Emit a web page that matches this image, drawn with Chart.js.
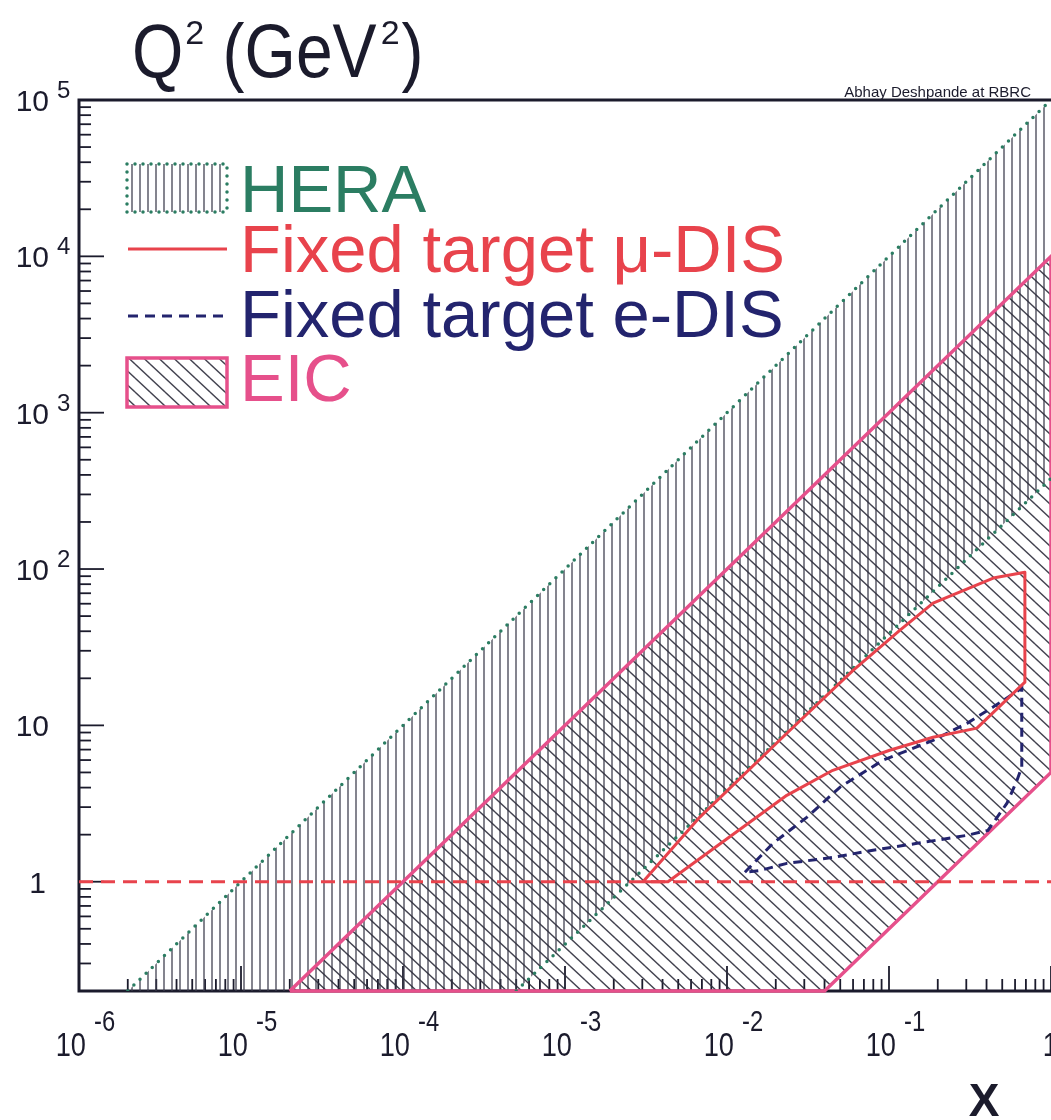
<!DOCTYPE html>
<html>
<head>
<meta charset="utf-8">
<script src="https://cdn.jsdelivr.net/npm/chart.js@4.4.1/dist/chart.umd.min.js"></script>
<style>
  html, body { margin: 0; padding: 0; background: #fff; }
  #wrap { width: 1051px; height: 1120px; }
</style>
</head>
<body>
<div id="wrap"><canvas id="kinem" width="1051" height="1120"></canvas></div>
<script>
// Plano cinemático (x, Q²): HERA, blanco fijo y EIC
const heraUpperX = [2e-6, 1];
const heraUpperQ2 = [0.2, 1e5];
const heraLowerX = [5e-4, 1];
const heraLowerQ2 = [0.2, 380];

const eicUpperX = [2e-5, 1];
const eicUpperQ2 = [0.2, 1e4];
const eicLowerX = [0.04, 1];
const eicLowerQ2 = [0.2, 5];

// Fixed target mu-DIS (contorno cerrado)
const muDisX = [0.00303, 0.0068, 0.0234, 0.06, 0.117, 0.187, 0.44, 0.69, 0.69, 0.349, 0.187, 0.101, 0.045, 0.0234, 0.00432, 0.00303];
const muDisQ2 = [1, 2.59, 8.9, 22.5, 40.7, 60.5, 87.5, 95.5, 18.9, 9.6, 8.4, 6.93, 5.16, 3.57, 1, 1];

// Fixed target e-DIS (contorno cerrado)
const eDisX = [0.0129, 0.0192, 0.0312, 0.0499, 0.0919, 0.187, 0.303, 0.439, 0.66, 0.66, 0.617, 0.535, 0.408, 0.303, 0.149, 0.0796, 0.0451, 0.0234, 0.016, 0.0129];
const eDisQ2 = [1.15, 1.76, 2.59, 4.03, 5.99, 8.03, 10.3, 13.1, 17.3, 5.4, 4.46, 3.18, 2.13, 1.98, 1.76, 1.59, 1.43, 1.31, 1.18, 1.15];

// Corte Q² = 1
const q2CutX = [1e-6, 1];
const q2CutQ2 = [1, 1];

// Ejes
const xTickExp = [-6, -5, -4, -3, -2, -1, 0];
const yTickExp = [0, 1, 2, 3, 4, 5];
const xRange = [1e-6, 1];
const yRange = [0.2, 1e5];

const FONT = "'Liberation Sans', Arial, Helvetica, sans-serif";
const INK = '#1b1b2c';
const GREEN = '#2b7d62';
const RED = '#e8434c';
const NAVY = '#23246e';
const PINK = '#e6508b';

const pts = (xs, ys) => xs.map((x, i) => ({ x: x, y: ys[i] }));

const heraShape = pts(heraUpperX, heraUpperQ2).concat(pts(heraLowerX, heraLowerQ2).reverse());
const eicShape = pts(eicUpperX, eicUpperQ2).concat(pts(eicLowerX, eicLowerQ2).reverse());
eicShape.push(eicShape[0]);

const canvas = document.getElementById('kinem');
const ctx = canvas.getContext('2d');

// Rayado vertical (HERA)
function verticalHatch() {
    const t = document.createElement('canvas');
    t.width = 8; t.height = 8;
    const g = t.getContext('2d');
    g.strokeStyle = 'rgba(62, 62, 78, 0.85)';
    g.lineWidth = 1.5;
    g.beginPath(); g.moveTo(4, -1); g.lineTo(4, 9); g.stroke();
    return ctx.createPattern(t, 'repeat');
}

// Rayado diagonal (EIC)
function diagonalHatch() {
    const w = 15, h = 14;
    const t = document.createElement('canvas');
    t.width = w; t.height = h;
    const g = t.getContext('2d');
    g.strokeStyle = 'rgba(45, 45, 60, 0.9)';
    g.lineWidth = 1.4;
    [[0, 0], [-w, 0], [w, 0], [0, -h], [0, h]].forEach(([ox, oy]) => {
        g.beginPath(); g.moveTo(ox, oy); g.lineTo(ox + w, oy + h); g.stroke();
    });
    return ctx.createPattern(t, 'repeat');
}

const heraPattern = verticalHatch();
const eicPattern = diagonalHatch();

function stretchText(c, txt, x, y, sx, sy) {
    c.save();
    c.translate(x, y);
    c.scale(sx, sy);
    c.fillText(txt, 0, 0);
    c.restore();
}

// Marco y marcas hacia dentro
const framePlugin = {
    id: 'frame',
    beforeDatasetsDraw(chart) {
        const c = chart.ctx;
        const a = chart.chartArea;
        const xs = chart.scales.x, ys = chart.scales.y;
        c.save();
        c.strokeStyle = INK;
        c.lineWidth = 3;
        c.beginPath();
        c.moveTo(a.right + 2, a.top);
        c.lineTo(a.left, a.top);
        c.lineTo(a.left, a.bottom);
        c.lineTo(a.right + 2, a.bottom);
        c.stroke();

        c.lineWidth = 1.8;
        // eje Y
        for (let e = -1; e <= 5; e++) {
            for (let k = 1; k <= 9; k++) {
                const v = k * Math.pow(10, e);
                if (v < yRange[0] || v > yRange[1]) continue;
                const py = ys.getPixelForValue(v);
                const len = k === 1 ? 25 : 12;
                c.beginPath(); c.moveTo(a.left, py); c.lineTo(a.left + len, py); c.stroke();
            }
        }
        // eje X
        for (let e = -6; e <= 0; e++) {
            for (let k = 1; k <= 9; k++) {
                const v = k * Math.pow(10, e);
                if (v < xRange[0] || v > xRange[1]) continue;
                const px = xs.getPixelForValue(v);
                const len = k === 1 ? 25 : 12;
                c.beginPath(); c.moveTo(px, a.bottom); c.lineTo(px, a.bottom - len); c.stroke();
            }
        }
        c.restore();
    }
};

// Etiquetas, título y leyenda
const textPlugin = {
    id: 'texts',
    afterDraw(chart) {
        const c = chart.ctx;
        const xs = chart.scales.x, ys = chart.scales.y;
        c.save();
        c.fillStyle = INK;
        c.textBaseline = 'alphabetic';

        // etiquetas eje Y
        yTickExp.forEach(e => {
            const py = ys.getPixelForValue(Math.pow(10, e));
            c.textAlign = 'right';
            c.font = '30px ' + FONT;
            if (e === 0) {
                c.fillText('1', 46, py + 11);
            } else if (e === 1) {
                c.fillText('10', 49, py + 11);
            } else {
                c.fillText('10', 49, py + 11);
                c.textAlign = 'left';
                c.font = '24px ' + FONT;
                c.fillText(String(e), 57, py - 2);
            }
        });

        // etiquetas eje X
        xTickExp.forEach(e => {
            const px = xs.getPixelForValue(Math.pow(10, e));
            if (e === 0) {
                c.textAlign = 'right';
                c.font = '32px ' + FONT;
                stretchText(c, '1', px + 7, 1056, 0.85, 1.05);
                return;
            }
            c.textAlign = 'right';
            c.font = '32px ' + FONT;
            stretchText(c, '10', px + 7, 1056, 0.85, 1.05);
            c.textAlign = 'left';
            c.font = '28px ' + FONT;
            stretchText(c, String(e), px + 15, 1031, 0.85, 1.05);
        });

        // título del eje Y
        c.textAlign = 'left';
        let tx = 132;
        c.font = '66px ' + FONT;
        stretchText(c, 'Q', tx, 77, 1, 1.15);
        tx += c.measureText('Q').width + 2;
        c.font = '34px ' + FONT;
        c.fillText('2', tx, 44);
        tx += c.measureText('2').width;
        c.font = '66px ' + FONT;
        stretchText(c, ' (GeV', tx, 77, 1, 1.15);
        tx += c.measureText(' (GeV').width + 4;
        c.font = '34px ' + FONT;
        c.fillText('2', tx, 44);
        tx += c.measureText('2').width + 2;
        c.font = '66px ' + FONT;
        stretchText(c, ')', tx, 77, 1, 1.15);

        // título del eje X
        c.textAlign = 'center';
        c.font = 'bold 46px ' + FONT;
        c.fillText('X', 984, 1116);

        // autor
        c.textAlign = 'right';
        c.font = '15px ' + FONT;
        c.fillText('Abhay Deshpande at RBRC', 1031, 97);

        // leyenda
        c.textAlign = 'left';
        c.fillStyle = heraPattern;
        c.fillRect(127, 164, 100, 48);
        c.strokeStyle = GREEN;
        c.lineWidth = 3.5;
        c.lineCap = 'round';
        c.setLineDash([0, 8]);
        c.strokeRect(127, 164, 100, 48);

        c.setLineDash([]);
        c.lineCap = 'butt';
        c.strokeStyle = RED;
        c.lineWidth = 3;
        c.beginPath(); c.moveTo(128, 249); c.lineTo(227, 249); c.stroke();

        c.strokeStyle = NAVY;
        c.setLineDash([10, 7]);
        c.beginPath(); c.moveTo(128, 316); c.lineTo(227, 316); c.stroke();
        c.setLineDash([]);

        c.fillStyle = eicPattern;
        c.fillRect(127, 358, 100, 49);
        c.strokeStyle = PINK;
        c.lineWidth = 3.5;
        c.strokeRect(127, 358, 100, 49);

        c.font = '67px ' + FONT;
        c.fillStyle = GREEN; c.fillText('HERA', 240, 212);
        c.fillStyle = RED; c.fillText('Fixed target \u03bc-DIS', 240, 272);
        c.fillStyle = NAVY; c.fillText('Fixed target e-DIS', 240, 337);
        c.fillStyle = PINK; c.fillText('EIC', 240, 401);
        c.restore();
    }
};

new Chart(ctx, {
    type: 'line',
    data: {
        datasets: [
            {
                label: 'Q2 = 1',
                data: pts(q2CutX, q2CutQ2),
                borderColor: RED,
                borderWidth: 3,
                borderDash: [14, 8],
                fill: false,
                order: 1
            },
            {
                label: 'Fixed target mu-DIS',
                data: pts(muDisX, muDisQ2),
                borderColor: RED,
                borderWidth: 3,
                borderJoinStyle: 'round',
                fill: false,
                order: 2
            },
            {
                label: 'Fixed target e-DIS',
                data: pts(eDisX, eDisQ2),
                borderColor: NAVY,
                borderWidth: 3,
                borderDash: [9, 6],
                fill: false,
                order: 3
            },
            {
                label: 'HERA y=1',
                data: pts(heraUpperX, heraUpperQ2),
                borderColor: GREEN,
                borderWidth: 3.5,
                borderCapStyle: 'round',
                borderDash: [0, 8.5],
                fill: false,
                order: 5
            },
            {
                label: 'HERA y min',
                data: pts(heraLowerX, heraLowerQ2),
                borderColor: GREEN,
                borderWidth: 3.5,
                borderCapStyle: 'round',
                borderDash: [0, 8.5],
                fill: false,
                order: 6
            },
            {
                label: 'EIC',
                data: eicShape,
                borderColor: PINK,
                borderWidth: 3.5,
                backgroundColor: eicPattern,
                fill: 'shape',
                clip: 6,
                order: 9
            },
            {
                label: 'HERA',
                data: heraShape,
                borderWidth: 0,
                borderColor: 'rgba(0,0,0,0)',
                backgroundColor: heraPattern,
                fill: 'shape',
                order: 10
            }
        ]
    },
    options: {
        responsive: false,
        animation: false,
        events: [],
        layout: { padding: { left: 79, top: 100, right: 0, bottom: 129 } },
        elements: { point: { radius: 0 }, line: { tension: 0 } },
        scales: {
            x: { type: 'logarithmic', min: xRange[0], max: xRange[1], display: false },
            y: { type: 'logarithmic', min: yRange[0], max: yRange[1], display: false }
        },
        plugins: {
            legend: { display: false },
            tooltip: { enabled: false }
        }
    },
    plugins: [framePlugin, textPlugin]
});
</script>
</body>
</html>
